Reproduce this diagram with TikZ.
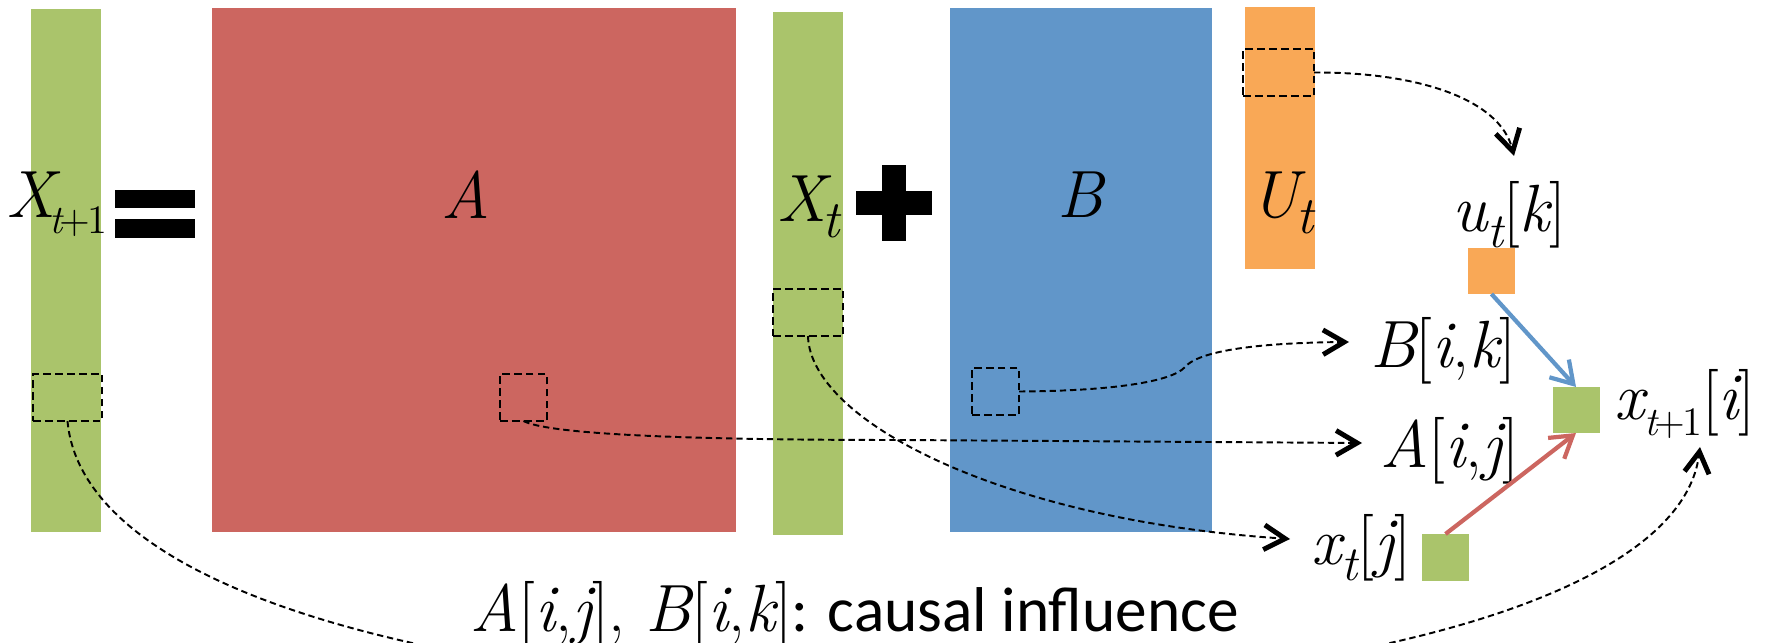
\documentclass[tikz,border=0pt]{standalone}
\usepackage{fontspec}
\newfontfamily\calfont{Carlito}
\usetikzlibrary{arrows.meta}
\definecolor{cgreen}{RGB}{170,196,107}
\definecolor{cred}{RGB}{204,102,96}
\definecolor{cblue}{RGB}{97,150,201}
\definecolor{corange}{RGB}{249,168,86}
\newcommand\tms{\rmfamily}
\newcommand\sbx[2]{\raisebox{-4.5pt}{\tms\fontsize{#1}{#1}\selectfont #2}}
\newcommand\iv[1]{{\tms\itshape #1}}
\newcommand\tpo{\iv{t}\kern-0.8pt+\kern-0.8pt1}
\tikzset{
  blk/.style={inner sep=0pt, outer sep=0pt, draw=none},
  gbar/.style={blk, fill=cgreen},
  rmat/.style={blk, fill=cred},
  bmat/.style={blk, fill=cblue},
  obar/.style={blk, fill=corange},
  sym/.style={blk, fill=black},
  dbox/.style={inner sep=0pt, outer sep=0pt, draw=black, line width=0.7pt, dash pattern=on 2.2pt off 1.2pt},
  lab/.style={inner sep=0pt, outer sep=0pt, font=\tms\fontsize{19}{19}\selectfont},
  tiphead/.style={-{Straight Barb[length=6pt,width=7pt,line width=1.4pt]}},
  darrow/.style={draw=black, line width=0.55pt, dash pattern=on 1.8pt off 1.1pt, tiphead},
  carrow/.style={line width=1.2pt, -{Straight Barb[length=6pt,width=7.5pt,line width=1.2pt]}},
}
\begin{document}
\begin{tikzpicture}[x=0.01cm,y=-0.01cm]
\useasboundingbox (0,0) rectangle (1781,643);
\clip (0,0) rectangle (1781,643);
\fill[white] (0,0) rectangle (1781,643);
% big blocks
\node[gbar, minimum width=0.70cm, minimum height=5.23cm] (Xt1) at (66,270.5) {};
\node[rmat, minimum width=5.24cm, minimum height=5.24cm] (Amat) at (474,270) {};
\node[gbar, minimum width=0.70cm, minimum height=5.23cm] (Xt) at (808,273.5) {};
\node[bmat, minimum width=2.62cm, minimum height=5.24cm] (Bmat) at (1081,270) {};
\node[obar, minimum width=0.70cm, minimum height=2.62cm] (Ut) at (1280,138) {};
% equals and plus
\node[sym, minimum width=0.80cm, minimum height=0.18cm] (eqa) at (155,199) {};
\node[sym, minimum width=0.80cm, minimum height=0.19cm] (eqb) at (155,228.5) {};
\node[sym, minimum width=0.76cm, minimum height=0.24cm] (plh) at (894,203) {};
\node[sym, minimum width=0.24cm, minimum height=0.76cm] (plv) at (894,203) {};
% dashed boxes
\node[dbox, minimum width=0.69cm, minimum height=0.47cm] (dX1) at (67.5,397.5) {};
\node[dbox, minimum width=0.47cm, minimum height=0.47cm] (dA) at (523.5,397.5) {};
\node[dbox, minimum width=0.70cm, minimum height=0.47cm] (dXt) at (808,312.5) {};
\node[dbox, minimum width=0.47cm, minimum height=0.47cm] (dB) at (995.5,391.5) {};
\node[dbox, minimum width=0.71cm, minimum height=0.47cm] (dU) at (1278.5,72.5) {};
% small squares
\node[obar, minimum width=0.47cm, minimum height=0.46cm] (su) at (1491.5,271) {};
\node[gbar, minimum width=0.47cm, minimum height=0.46cm] (sx1) at (1576,410) {};
\node[gbar, minimum width=0.47cm, minimum height=0.47cm] (sxt) at (1445.5,557.5) {};
% labels
\node[lab, anchor=base west] (lX1) at (6,218) {\iv{X}\kern-1.5pt\sbx{11.5}{\tpo}};
\node[lab, anchor=base] (lA) at (466,219) {\iv{A}};
\node[lab, anchor=base west] (lXt) at (777,222) {\iv{X}\kern-1pt\sbx{15}{\iv{t}}};
\node[lab, anchor=base] (lB) at (1080,218) {\iv{B}};
\node[lab, anchor=base west] (lU) at (1250,218) {\iv{U}\kern-0.5pt\sbx{15}{\iv{t}}};
\node[lab, anchor=base west] (lu) at (1452,232) {\iv{u}\sbx{14}{\iv{t}}[\iv{k}]};
\node[lab, anchor=base west] (lBik) at (1370,368) {\iv{B}[\iv{i},\iv{k}]};
\node[lab, anchor=base west] (lx1) at (1614,420) {\iv{x}\sbx{11.5}{\tpo}[\iv{i}]};
\node[lab, anchor=base west] (lAij) at (1380,468) {\iv{A}[\iv{i},\iv{j}]};
\node[lab, anchor=base east] (lxt) at (1411,565) {\iv{x}\sbx{14}{\iv{t}}[\iv{j}]};
\node[lab, anchor=base west] (cap) at (470,632) {\iv{A}[\iv{i},\iv{j}], \iv{B}[\iv{i},\iv{k}]{\calfont\fontsize{18}{18}\selectfont: causal influence}};
% arrow end points
\coordinate (pu) at (1514,156);
\coordinate (pB) at (1349,342);
\coordinate (pA) at (1362,443);
\coordinate (pxt) at (1290,539);
\coordinate (px1) at (1700,447);
% dashed connectors
\draw[darrow] (dU.east) .. controls (1420,72) and (1500,100) .. (pu);
\draw[darrow] (dB.east) .. controls (1110,391) and (1172,382) .. (1185,367) .. controls (1196,354) and (1240,343) .. (pB);
\draw[darrow] (dA.south) .. controls (548,434) and (680,440) .. (900,440) -- (pA);
\draw[darrow] (dXt.south) .. controls (810,420) and (1000,520) .. (pxt);
\draw[darrow] (dX1.south) .. controls (100,780) and (1660,770) .. (px1);
% coloured arrows
\draw[carrow, draw=cblue] (su.south) -- (sx1.north);
\draw[carrow, draw=cred] (sxt.north) -- (sx1.south);
\end{tikzpicture}
\end{document}
